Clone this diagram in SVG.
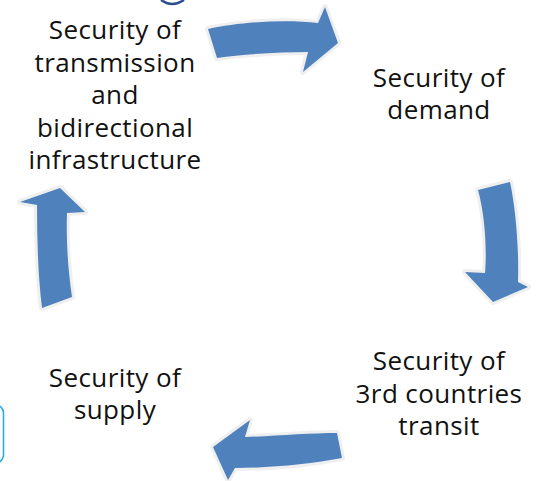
<svg xmlns="http://www.w3.org/2000/svg" width="537" height="481" viewBox="0 0 537 481">
  <style>
    .label { font-family: "Open Sans", "Noto Sans", "Liberation Sans", sans-serif; font-size: 26px; letter-spacing: 0.4px; fill: #111111; text-anchor: middle; }
    .arrow { fill: #4F81BD; stroke: #EFEFEF; stroke-width: 6; stroke-linejoin: round; paint-order: stroke; }
  </style>
  <rect width="537" height="481" fill="#FFFFFF"/>

  <!-- edge of a shape beyond the top margin -->
  <path d="M161,0 Q172,8 184,0" fill="none" stroke="#2E4E8E" stroke-width="2.5"/>
  <!-- rounded frame clipped by the left margin -->
  <rect x="-20" y="405" width="23.5" height="58" rx="8" fill="none" stroke="#2AACE2" stroke-width="1.6"/>

  <g id="transmission">
    <text class="label" x="115" y="39">Security of</text>
    <text class="label" x="115" y="71.5">transmission</text>
    <text class="label" x="115" y="104">and</text>
    <text class="label" x="115" y="136.5">bidirectional</text>
    <text class="label" x="115" y="169">infrastructure</text>
  </g>

  <g id="demand">
    <text class="label" x="439" y="86.5">Security of</text>
    <text class="label" x="439" y="119">demand</text>
  </g>

  <g id="transit">
    <text class="label" x="439" y="370">Security of</text>
    <text class="label" x="439" y="402.5">3rd countries</text>
    <text class="label" x="439" y="435">transit</text>
  </g>

  <g id="supply">
    <text class="label" x="115" y="386.5">Security of</text>
    <text class="label" x="115" y="419">supply</text>
  </g>

  <g id="connectors">
    <!-- transmission to demand -->
    <path class="arrow" d="M208,29 C240,22 285,19 318,23 L325,7 L338,43 L303,72 L308,52 C280,52 245,54 217,58 Z"/>
    <!-- demand to transit -->
    <path class="arrow" d="M478,190 L510,182 C516,210 519,250 518,282 L528,287 L493,302 L465,272 L485,273 C487,250 485,215 478,190 Z"/>
    <!-- transit to supply -->
    <path class="arrow" d="M337,433 L342,458 C310,464 270,468 235,468 L228,480 L213,447 L250,420 L245,437 C275,436 310,433 337,433 Z"/>
    <!-- supply to transmission -->
    <path class="arrow" d="M42,308 L72,297 C68,270 66,240 67,213 L85,212 L60,188 L20,202 L37,205 C37,240 38,275 42,308 Z"/>
  </g>
</svg>
